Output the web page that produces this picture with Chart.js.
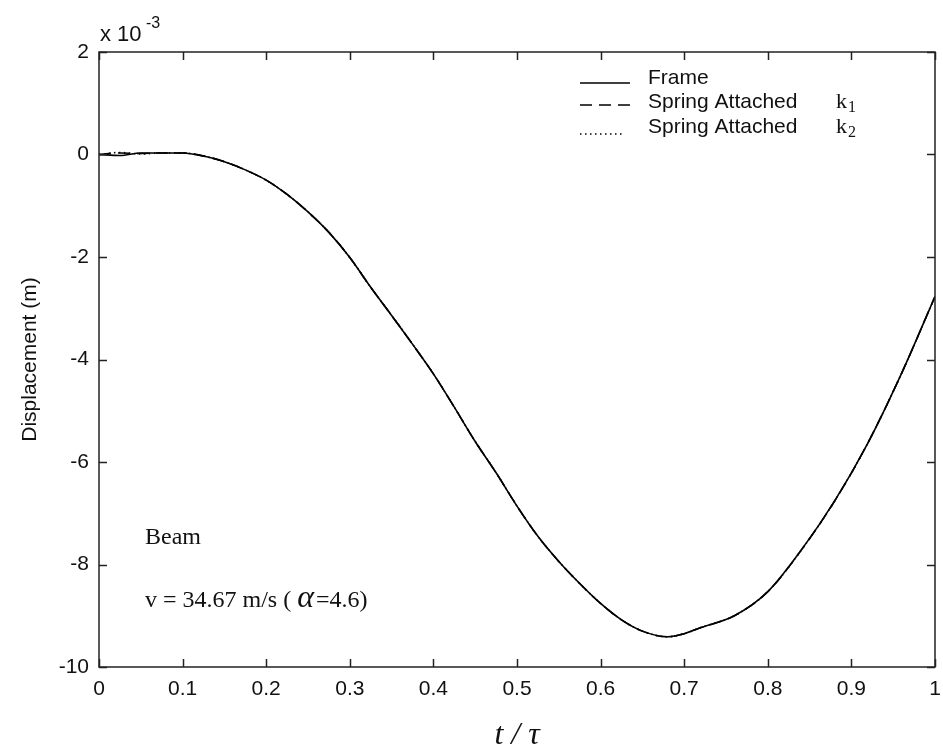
<!DOCTYPE html>
<html>
<head>
<meta charset="utf-8">
<script src="https://cdn.jsdelivr.net/npm/chart.js@4/dist/chart.umd.min.js"></script>
<style>
  html, body { margin: 0; padding: 0; background: #fff; }
  #wrap { width: 943px; height: 754px; }
</style>
</head>
<body>
<div id="wrap"><canvas id="chart"></canvas></div>
<script>
// t / tau values
const tVals = [0, 0.025, 0.05, 0.075, 0.1, 0.125, 0.15, 0.175, 0.2, 0.225, 0.25, 0.275, 0.3,
    0.325, 0.35, 0.375, 0.4, 0.425, 0.45, 0.475, 0.5, 0.525, 0.55, 0.575, 0.6, 0.625, 0.65,
    0.68, 0.7, 0.72, 0.76, 0.8, 0.84, 0.88, 0.92, 0.96, 1.0];

// displacement in units of 1e-3 m
const frameDisp = [0, -0.02, 0.03, 0.03, 0.03, -0.03, -0.14, -0.30, -0.50, -0.78, -1.12, -1.52, -2.01,
    -2.59, -3.14, -3.70, -4.28, -4.93, -5.60, -6.21, -6.86, -7.45, -7.94, -8.37, -8.76, -9.08, -9.30,
    -9.41, -9.35, -9.23, -9.00, -8.53, -7.72, -6.76, -5.62, -4.27, -2.77];
const spring1Disp = [0, 0.03, 0.02, 0.03, 0.03, -0.03, -0.14, -0.30, -0.50, -0.78, -1.12, -1.52, -2.01,
    -2.59, -3.14, -3.70, -4.28, -4.93, -5.60, -6.21, -6.86, -7.45, -7.94, -8.37, -8.76, -9.08, -9.30,
    -9.41, -9.35, -9.23, -9.00, -8.53, -7.72, -6.76, -5.62, -4.27, -2.77];
const spring2Disp = [0, 0.04, 0.01, 0.03, 0.03, -0.03, -0.14, -0.30, -0.50, -0.78, -1.12, -1.52, -2.01,
    -2.59, -3.14, -3.70, -4.28, -4.93, -5.60, -6.21, -6.86, -7.45, -7.94, -8.37, -8.76, -9.08, -9.30,
    -9.41, -9.35, -9.23, -9.00, -8.53, -7.72, -6.76, -5.62, -4.27, -2.77];

const seriesNames = ['Frame', 'Spring Attached', 'Spring Attached'];
const seriesSubs = ['', '1', '2'];
const xTicks = [0, 0.1, 0.2, 0.3, 0.4, 0.5, 0.6, 0.7, 0.8, 0.9, 1];
const yTicks = [-10, -8, -6, -4, -2, 0, 2];

const sans = '"Liberation Sans", Arial, sans-serif';
const serif = '"Liberation Serif", "Times New Roman", serif';

function toPoints(ys) {
    return tVals.map((t, i) => ({ x: t, y: ys[i] }));
}

// box, inward ticks, titles, legend and notes
const decorPlugin = {
    id: 'decor',
    afterDraw(chart) {
        const ctx = chart.ctx;
        const a = chart.chartArea;
        const xs = chart.scales.x, ys = chart.scales.y;
        ctx.save();
        ctx.strokeStyle = '#222';
        ctx.lineWidth = 1.5;
        ctx.strokeRect(a.left, a.top, a.right - a.left, a.bottom - a.top);

        // inward ticks on all four sides
        ctx.beginPath();
        xTicks.forEach(v => {
            const px = Math.round(xs.getPixelForValue(v)) + 0.5;
            ctx.moveTo(px, a.bottom); ctx.lineTo(px, a.bottom - 8);
            ctx.moveTo(px, a.top); ctx.lineTo(px, a.top + 8);
        });
        yTicks.forEach(v => {
            const py = Math.round(ys.getPixelForValue(v)) + 0.5;
            ctx.moveTo(a.left, py); ctx.lineTo(a.left + 8, py);
            ctx.moveTo(a.right, py); ctx.lineTo(a.right - 8, py);
        });
        ctx.stroke();

        ctx.fillStyle = '#111';
        // exponent
        ctx.font = '22px ' + sans;
        ctx.textAlign = 'left';
        ctx.textBaseline = 'alphabetic';
        ctx.fillText('x 10', 100, 41);
        ctx.font = '16px ' + sans;
        ctx.fillText('-3', 146, 28);

        // y title
        ctx.save();
        ctx.translate(30, (a.top + a.bottom) / 2);
        ctx.rotate(-Math.PI / 2);
        ctx.font = '21px ' + sans;
        ctx.textAlign = 'center';
        ctx.textBaseline = 'middle';
        ctx.fillText('Displacement (m)', 0, 0);
        ctx.restore();

        // x title
        ctx.font = 'italic 32px ' + serif;
        ctx.textAlign = 'center';
        ctx.textBaseline = 'alphabetic';
        ctx.fillText('t / \u03C4', (a.left + a.right) / 2, 744);

        // notes
        ctx.textAlign = 'left';
        ctx.font = '24px ' + serif;
        ctx.fillText('Beam', 145, 544);
        let x = 145;
        const part1 = 'v = 34.67 m/s ( ';
        ctx.fillText(part1, x, 607);
        x += ctx.measureText(part1).width;
        ctx.font = 'italic 32px ' + serif;
        ctx.fillText('\u03B1', x, 607);
        x += ctx.measureText('\u03B1').width + 2;
        ctx.font = '24px ' + serif;
        ctx.fillText('=4.6)', x, 607);

        // legend
        const rows = [84, 108, 133];
        chart.data.datasets.forEach((ds, i) => {
            const y = rows[i];
            ctx.strokeStyle = '#000';
            ctx.lineWidth = 1.5;
            ctx.setLineDash(ds.borderDash || []);
            ctx.beginPath();
            const ly = i === 0 ? y - 1 : (i === 1 ? y - 3 : y + 1);
            ctx.moveTo(580, ly);
            ctx.lineTo(i === 2 ? 624 : 630, ly);
            ctx.stroke();
            ctx.setLineDash([]);
            ctx.font = '21px ' + sans;
            ctx.fillStyle = '#111';
            ctx.fillText(seriesNames[i], 648, y);
            if (seriesSubs[i]) {
                ctx.font = '22px ' + serif;
                ctx.fillText('k', 836, y);
                ctx.font = '16px ' + serif;
                ctx.fillText(seriesSubs[i], 848, y + 4);
            }
        });
        ctx.restore();
    }
};

new Chart(document.getElementById('chart'), {
    type: 'line',
    data: {
        datasets: [
            { label: 'Frame', data: toPoints(frameDisp), borderColor: '#000', borderWidth: 1.6,
              pointRadius: 0, cubicInterpolationMode: 'monotone', fill: false },
            { label: 'Spring Attached k1', data: toPoints(spring1Disp), borderColor: '#000', borderWidth: 1.6,
              borderDash: [12, 7], pointRadius: 0, cubicInterpolationMode: 'monotone', fill: false },
            { label: 'Spring Attached k2', data: toPoints(spring2Disp), borderColor: '#000', borderWidth: 1.6,
              borderDash: [1.5, 3.5], pointRadius: 0, cubicInterpolationMode: 'monotone', fill: false }
        ]
    },
    options: {
        responsive: true,
        maintainAspectRatio: false,
        animation: false,
        layout: { padding: { top: 52, right: 8, left: 0, bottom: 0 } },
        plugins: { legend: { display: false }, tooltip: { enabled: false } },
        scales: {
            x: {
                type: 'linear', min: 0, max: 1,
                afterBuildTicks: s => { s.ticks = xTicks.map(v => ({ value: v })); },
                afterFit: s => { s.height = 87; s.paddingLeft = 0; s.paddingRight = 0; },
                grid: { display: false, drawTicks: false },
                border: { display: false },
                ticks: { padding: 10, color: '#111', font: { family: sans, size: 21 },
                         callback: v => String(+v.toFixed(1)), maxRotation: 0 }
            },
            y: {
                type: 'linear', min: -10, max: 2,
                afterBuildTicks: s => { s.ticks = yTicks.map(v => ({ value: v })); },
                afterFit: s => { s.width = 99; s.paddingTop = 0; s.paddingBottom = 0; },
                grid: { display: false, drawTicks: false },
                border: { display: false },
                ticks: { padding: 10, color: '#111', font: { family: sans, size: 21 } }
            }
        }
    },
    plugins: [decorPlugin]
});
</script>
</body>
</html>
